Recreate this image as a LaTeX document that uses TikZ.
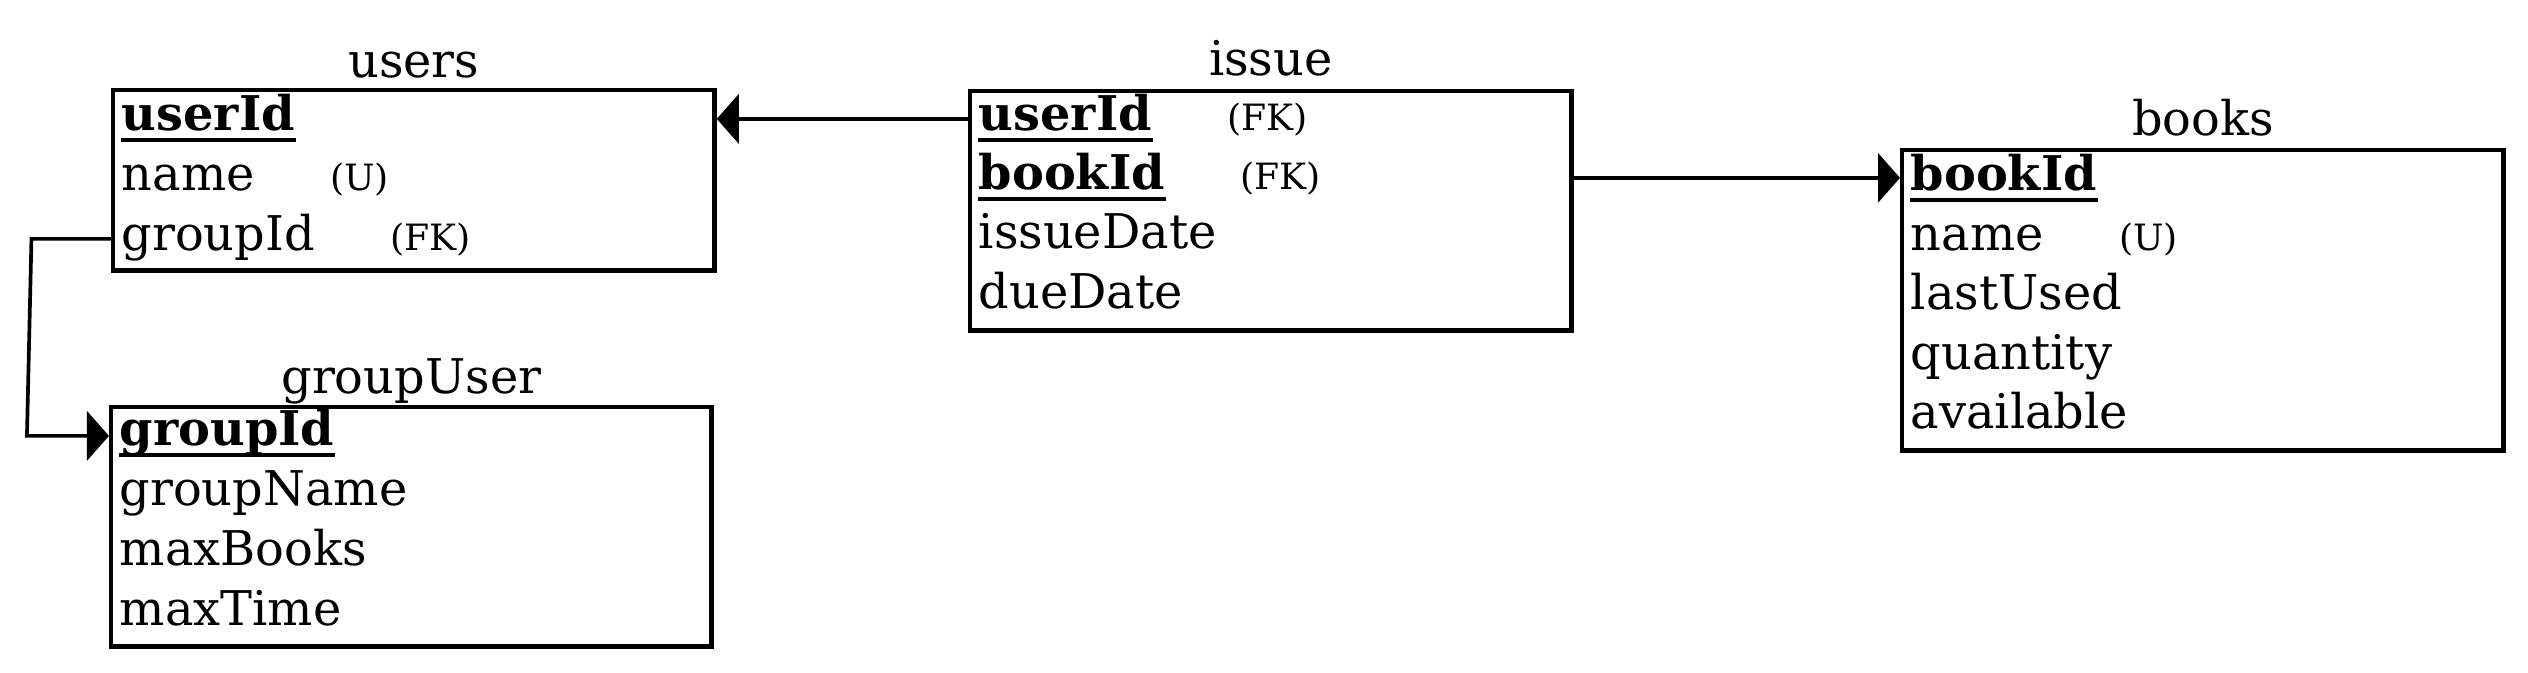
\documentclass[tikz,border=0pt]{standalone}
\usepackage{fontspec}
\setmainfont{DejaVu Serif}
\usetikzlibrary{positioning,arrows.meta}
\newcommand{\keyline}[1]{\draw[ul] ([yshift=-0.1cm]#1.base west) -- ([yshift=-0.1cm]#1.base east);}
\begin{document}
\begin{tikzpicture}[x=0.01cm,y=-0.01cm,
  tbl/.style={draw,line width=1.25pt,inner sep=0pt,anchor=north west},
  ttl/.style={anchor=base,inner sep=0pt,font=\fontsize{13.6}{16}\selectfont},
  fld/.style={anchor=base west,inner sep=0pt,font=\fontsize{13.6}{16}\selectfont},
  key/.style={fld,font=\fontsize{13.6}{16}\selectfont\bfseries},
  note/.style={inner sep=0pt,font=\fontsize{10.3}{12}\selectfont},
  ul/.style={line width=1.3pt},
  fk/.style={line width=1.05pt,-{Triangle[length=0.22cm,width=0.49cm]}}]
\useasboundingbox (0,0) rectangle (2528,672);
% users
\node[tbl,minimum width=6.01cm,minimum height=1.80cm] (users) at (111,88) {};
\node[ttl] (users-t) at ([yshift=0.11cm]users.north) {users};
\node[key] (users-uid) at (121,130) {userId};
\node[fld] (users-name) at (121,190) {name};
\node[fld] (users-gid) at (121,250) {groupId};
\node[note,base right=0.74cm of users-name] (users-u) {(U)};
\node[note,base right=0.74cm of users-gid] (users-fk) {(FK)};
\keyline{users-uid}
% groupUser
\node[tbl,minimum width=6.00cm,minimum height=2.39cm] (gu) at (109,405) {};
\node[ttl] (gu-t) at ([yshift=0.12cm]gu.north) {groupUser};
\node[key] (gu-gid) at (119,445) {groupId};
\node[fld] (gu-gname) at (119,505) {groupName};
\node[fld] (gu-mbooks) at (119,565) {maxBooks};
\node[fld] (gu-mtime) at (119,625) {maxTime};
\keyline{gu-gid}
% issue
\node[tbl,minimum width=6.01cm,minimum height=2.39cm] (issue) at (968,89) {};
\node[ttl] (issue-t) at ([yshift=0.14cm]issue.north) {issue};
\node[key] (issue-uid) at (978,130) {userId};
\node[key] (issue-bid) at (978,189) {bookId};
\node[fld] (issue-idate) at (978,248) {issueDate};
\node[fld] (issue-ddate) at (978,308) {dueDate};
\node[note,base right=0.74cm of issue-uid] (issue-fk1) {(FK)};
\node[note,base right=0.74cm of issue-bid] (issue-fk2) {(FK)};
\keyline{issue-uid}
\keyline{issue-bid}
% books
\node[tbl,minimum width=6.01cm,minimum height=3.00cm] (books) at (1900,148) {};
\node[ttl] (books-t) at ([yshift=0.13cm]books.north) {books};
\node[key] (books-bid) at (1910,190) {bookId};
\node[fld] (books-name) at (1910,250) {name};
\node[fld] (books-lused) at (1910,309) {lastUsed};
\node[fld] (books-qty) at (1910,369) {quantity};
\node[fld] (books-avail) at (1910,428) {available};
\node[note,base right=0.74cm of books-name] (books-u) {(U)};
\keyline{books-bid}
% links
\draw[fk] ([yshift=0.02cm]issue.west |- issue-uid.mid) -- ([yshift=0.02cm]users.east |- issue-uid.mid);
\draw[fk] ([yshift=0.02cm]issue.east |- issue-bid.mid) -- ([yshift=0.02cm]books.west |- issue-bid.mid);
\coordinate (elbow1) at ([xshift=-0.795cm,yshift=0.02cm]users.west |- users-gid.mid);
\coordinate (elbow2) at ([xshift=-0.82cm]gu.west |- gu-gid.mid);
\draw[fk] ([yshift=0.02cm]users.west |- users-gid.mid) -- (elbow1) -- (elbow2) -- (gu.west |- gu-gid.mid);
\end{tikzpicture}
\end{document}
